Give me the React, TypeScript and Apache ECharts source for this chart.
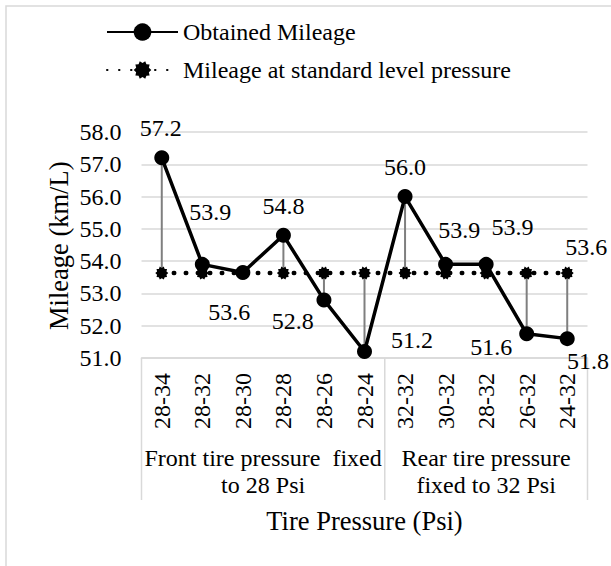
import React, { useEffect, useRef } from "react";
import * as echarts from "echarts";

const categories = ["28-34", "28-32", "28-30", "28-28", "28-26", "28-24", "32-32", "30-32", "28-32", "26-32", "24-32"];
const obtained = [57.2, 53.9, 53.65, 54.8, 52.8, 51.2, 56.0, 53.9, 53.9, 51.75, 51.6];
const standard = [53.63, 53.63, 53.63, 53.63, 53.63, 53.63, 53.63, 53.63, 53.63, 53.63, 53.63];
const obtainedLabels = ["57.2", "53.9", "53.6", "54.8", "52.8", "51.2", "56.0", "53.9", "53.9", "51.6", "51.8"];
const standardLabels = ["", "", "", "", "", "", "", "", "", "", "53.6"];
const groupNames = ["Front tire pressure  fixed\nto 28 Psi", "Rear tire pressure\nfixed to 32 Psi"];
const groupStarts = [0, 6];
const groupEnds = [6, 11];
const yMin = 51;
const yMax = 58;
const yStep = 1;
const seriesNames = ["Obtained Mileage", "Mileage at standard level pressure"];
const xTitle = "Tire Pressure (Psi)";
const yTitle = "Mileage (km/L)";

// label placement (style only)
const obtainedLabelOffsets = [
  [-1, -30], [8, -52.7], [-13.5, 39.8], [0, -29.1], [-31.3, 21.4], [47.4, -11.5],
  [0, -29.6], [13.6, -34.4], [26.4, -36.9], [-35.4, 13.7], [20.8, 22.2],
];
const standardLabelOffset = [19, -26];

const FONT = "Liberation Serif";

// jagged "dotted-border" marker shape (Excel style)
function gearPath(): string {
  const n = 10;
  const pts: string[] = [];
  for (let k = 0; k < n * 2; k++) {
    const a = (Math.PI * k) / n;
    const r = k % 2 === 0 ? 50 : 38;
    pts.push(`${(50 + r * Math.cos(a)).toFixed(2)} ${(50 + r * Math.sin(a)).toFixed(2)}`);
  }
  return "path://M" + pts.join(" L") + " Z";
}
const GEAR = gearPath();

export default function App() {
  const ref = useRef<HTMLDivElement>(null);
  useEffect(() => {
    if (!ref.current) return;
    const chart = echarts.init(ref.current, undefined, { renderer: "svg" });
    const option: any = {
      animation: false,
      backgroundColor: "#ffffff",
      textStyle: { fontFamily: FONT, color: "#000" },
      grid: { left: 141.5, right: 23.5, top: 132, height: 226, containLabel: false },
      legend: {
        orient: "vertical",
        left: 106,
        top: 20,
        padding: 0,
        itemWidth: 71,
        itemHeight: 22,
        itemGap: 14,
        data: seriesNames,
        textStyle: { fontFamily: FONT, fontSize: 24, color: "#000" },
      },
      xAxis: {
        type: "category",
        data: categories,
        boundaryGap: true,
        axisLine: { show: true, lineStyle: { color: "#d9d9d9", width: 1.5 } },
        axisTick: { show: false },
        axisLabel: { rotate: 90, margin: 15, fontSize: 24, color: "#000", fontFamily: FONT, interval: 0 },
        splitLine: { show: false },
      },
      yAxis: {
        type: "value",
        min: yMin,
        max: yMax,
        interval: yStep,
        axisLine: { show: false },
        axisTick: { show: false },
        axisLabel: {
          margin: 20,
          fontSize: 24,
          color: "#000",
          fontFamily: FONT,
          formatter: (v: number) => v.toFixed(1),
        },
        splitLine: { show: true, lineStyle: { color: "#d9d9d9", width: 1.5 } },
      },
      series: [
        {
          type: "custom",
          name: "drop",
          z: 1,
          silent: true,
          encode: { x: 0, y: [1, 2] },
          data: categories.map((_, i) => [i, obtained[i], standard[i]]),
          renderItem: (params: any, api: any) => {
            const p1 = api.coord([api.value(0), api.value(1)]);
            const p2 = api.coord([api.value(0), api.value(2)]);
            return {
              type: "line",
              shape: { x1: p1[0], y1: p1[1], x2: p2[0], y2: p2[1] },
              style: { stroke: "#7f7f7f", lineWidth: 2 },
            };
          },
        },
        {
          type: "line",
          name: seriesNames[1],
          z: 3,
          symbol: GEAR,
          symbolSize: 13,
          showAllSymbol: true,
          itemStyle: { color: "#000" },
          lineStyle: { color: "#000", width: 4.5, type: [0.5, 11.5], cap: "round" },
          data: standard.map((v, i) => ({
            value: v,
            label: {
              show: standardLabels[i] !== "",
              position: "inside",
              offset: standardLabelOffset,
              formatter: () => standardLabels[i],
              fontSize: 24,
              color: "#000",
              fontFamily: FONT,
            },
          })),
        },
        {
          type: "line",
          name: seriesNames[0],
          z: 4,
          symbol: "circle",
          symbolSize: 15,
          showAllSymbol: true,
          itemStyle: { color: "#000" },
          lineStyle: { color: "#000", width: 3.5 },
          data: obtained.map((v, i) => ({
            value: v,
            label: {
              show: true,
              position: "inside",
              offset: obtainedLabelOffsets[i],
              formatter: () => obtainedLabels[i],
              fontSize: 24,
              color: "#000",
              fontFamily: FONT,
            },
          })),
        },
      ],
    };
    chart.setOption(option);

    const px = (i: number) => chart.convertToPixel({ xAxisIndex: 0 }, i) as number;
    const band = px(1) - px(0);
    const boundary = (i: number) => (i < categories.length ? px(i) - band / 2 : px(categories.length - 1) + band / 2);
    const yBase = chart.convertToPixel({ yAxisIndex: 0 }, yMin) as number;
    const yTop = chart.convertToPixel({ yAxisIndex: 0 }, yMax) as number;
    const xLeft = boundary(0);
    const xRight = boundary(categories.length);

    const sepIdx = Array.from(new Set([...groupStarts, ...groupEnds])).sort((a, b) => a - b);
    const graphics: any[] = [
      {
        type: "rect",
        silent: true,
        shape: { x: 6, y: 6, width: 720, height: 720 },
        style: { fill: "none", stroke: "#d9d9d9", lineWidth: 1.5 },
      },
      ...sepIdx.map((i) => ({
        type: "line",
        silent: true,
        shape: { x1: boundary(i), y1: yBase, x2: boundary(i), y2: yBase + 142 },
        style: { stroke: "#d9d9d9", lineWidth: 1.5 },
      })),
      ...groupNames.map((name, g) => ({
        type: "text",
        silent: true,
        x: (boundary(groupStarts[g]) + boundary(groupEnds[g])) / 2,
        y: yBase + 113.6,
        style: {
          text: name,
          align: "center",
          verticalAlign: "middle",
          fontSize: 24,
          lineHeight: 27.2,
          fontFamily: FONT,
          fill: "#000",
        },
      })),
      {
        type: "text",
        silent: true,
        x: (xLeft + xRight) / 2,
        y: 521,
        style: { text: xTitle, align: "center", verticalAlign: "middle", fontSize: 26.5, fontFamily: FONT, fill: "#000" },
      },
      {
        type: "text",
        silent: true,
        x: 59,
        y: (yBase + yTop) / 2 + 0.8,
        rotation: Math.PI / 2,
        style: { text: yTitle, align: "center", verticalAlign: "middle", fontSize: 26.5, fontFamily: FONT, fill: "#000" },
      },
    ];
    chart.setOption({ graphic: graphics });

    return () => chart.dispose();
  }, []);
  return <div ref={ref} style={{ position: "absolute", left: 0, top: 0, width: 611, height: 566 }} />;
}
